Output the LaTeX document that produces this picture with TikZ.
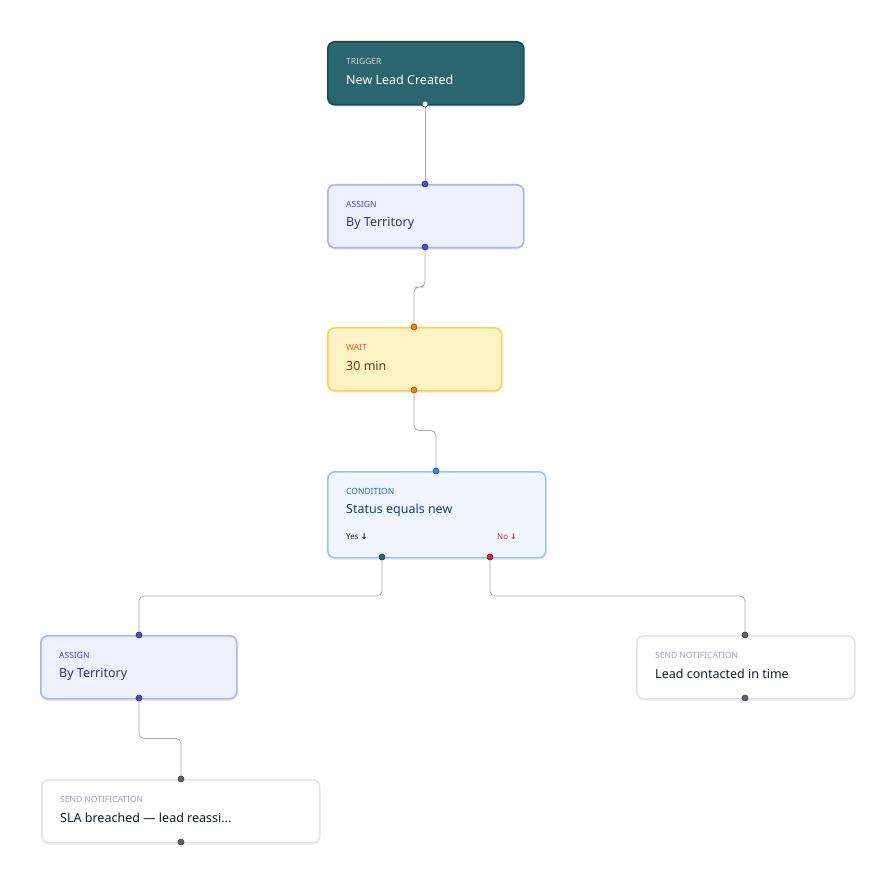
\documentclass[tikz,border=0pt]{standalone}
\usepackage{fontspec}
\setmainfont{Noto Sans}
\newfontfamily\symfont{DejaVu Sans}
\usetikzlibrary{calc,positioning,shadows}
\definecolor{teal}{HTML}{2A6670}
\definecolor{tealdark}{HTML}{1C4A52}
\definecolor{indfill}{HTML}{EEF0FD}
\definecolor{indline}{HTML}{A5B4FC}
\definecolor{indlbl}{HTML}{4F46E5}
\definecolor{indtxt}{HTML}{312E81}
\definecolor{ambfill}{HTML}{FEF3C7}
\definecolor{ambline}{HTML}{FCD34D}
\definecolor{amblbl}{HTML}{EA580C}
\definecolor{ambtxt}{HTML}{78350F}
\definecolor{bluefill}{HTML}{EFF6FF}
\definecolor{blueline}{HTML}{93C5FD}
\definecolor{bluelbl}{HTML}{2563EB}
\definecolor{blueport}{HTML}{3B82F6}
\definecolor{bluetxt}{HTML}{1E3A8A}
\definecolor{grayline}{HTML}{E2E4E8}
\definecolor{graylbl}{HTML}{9CA3AF}
\definecolor{darktxt}{HTML}{111827}
\definecolor{wirecol}{HTML}{A3A8B0}
\definecolor{nored}{HTML}{DC2626}
\definecolor{portgray}{HTML}{5B6472}
\tikzset{
  box/.style={draw, line width=1.6pt, rounded corners=7pt, anchor=north west,
    minimum height=63pt, inner sep=0pt,
    drop shadow={shadow xshift=0pt, shadow yshift=-2pt, opacity=.12}},
  lbl/.style={anchor=west, inner sep=0pt, font=\fontsize{8.5}{10}\selectfont\bfseries},
  ttl/.style={anchor=west, inner sep=0pt, font=\fontsize{12.5}{14}\selectfont\bfseries},
  port/.style={circle, draw=#1!60!black, fill=#1, line width=.6pt, minimum size=6pt, inner sep=0pt},
  wire/.style={draw=wirecol, line width=.8pt, rounded corners=5pt}
}
% node, label colour, label, title colour, title
\newcommand\cardtext[5]{%
  \node[lbl, text=#2] at ($(#1.north west)+(19,20)$) {#3};
  \node[ttl, text=#4] at ($(#1.north west)+(19,39)$) {#5};}
\begin{document}
\begin{tikzpicture}[x=1pt,y=-1pt]
\useasboundingbox (0,0) rectangle (896,882);
% cards
\node[box, draw=tealdark, fill=teal, minimum width=196pt] (trig) at (327,41) {};
\node[box, draw=indline, fill=indfill, minimum width=196pt] (asgA) at (327,184) {};
\node[box, draw=ambline, fill=ambfill, minimum width=174pt] (wait) at (327,327) {};
\node[box, draw=blueline, fill=bluefill, minimum width=218pt, minimum height=86pt] (cond) at (327,471) {};
\node[box, draw=indline, fill=indfill, minimum width=196pt] (asgB) at (40,635) {};
\node[box, draw=grayline, fill=white, minimum width=218pt] (ntfA) at (636,635) {};
\node[box, draw=grayline, fill=white, minimum width=278pt] (ntfB) at (41,779) {};
% texts
\cardtext{trig}{white!75!teal}{TRIGGER}{white}{New Lead Created}
\cardtext{asgA}{indlbl}{ASSIGN}{indtxt}{By Territory}
\cardtext{wait}{amblbl}{WAIT}{ambtxt}{30 min}
\cardtext{cond}{bluelbl}{CONDITION}{bluetxt}{Status equals new}
\cardtext{asgB}{indlbl}{ASSIGN}{indtxt}{By Territory}
\cardtext{ntfA}{graylbl}{SEND NOTIFICATION}{darktxt}{Lead contacted in time}
\cardtext{ntfB}{graylbl}{SEND NOTIFICATION}{darktxt}{SLA breached — lead reassi...}
\node[lbl, text=darktxt, font=\fontsize{8}{10}\selectfont\bfseries] (yes) at ($(cond.north west)+(19,66)$) {Yes {\symfont↓}};
\node[lbl, text=nored, font=\fontsize{8}{10}\selectfont\bfseries] (no) at ($(cond.north west)+(170,66)$) {No {\symfont↓}};
% ports
\coordinate (trigS) at (425,104);
\coordinate (asgAN) at (425,184); \coordinate (asgAS) at (425,247);
\coordinate (waitN) at (414,327); \coordinate (waitS) at (414,390);
\coordinate (condN) at (436,471);
\coordinate (yesS) at (382,557); \coordinate (noS) at (490,557);
\coordinate (asgBN) at (139,635); \coordinate (asgBS) at (139,698);
\coordinate (ntfAN) at (745,635); \coordinate (ntfAS) at (745,698);
\coordinate (ntfBN) at (181,779); \coordinate (ntfBS) at (181,842);
% wires
\draw[wire] (trigS) -- (asgAN);
\foreach \a/\b in {asgAS/waitN, waitS/condN, yesS/asgBN, noS/ntfAN, asgBS/ntfBN}
  \draw[wire] (\a) |- ($(\a)!.5!(\b)$) -| (\b);
\node[circle, draw=tealdark, fill=white, line width=.6pt, minimum size=6pt, inner sep=0pt] at (trigS) {};
\foreach \p in {asgAN, asgAS, asgBN, asgBS} \node[port=indlbl] at (\p) {};
\foreach \p in {waitN, waitS} \node[port=orange] at (\p) {};
\node[port=blueport] at (condN) {};
\node[port=teal] at (yesS) {};
\node[port=nored] at (noS) {};
\foreach \p in {ntfAN, ntfAS, ntfBN, ntfBS} \node[port=portgray] at (\p) {};
\end{tikzpicture}
\end{document}
